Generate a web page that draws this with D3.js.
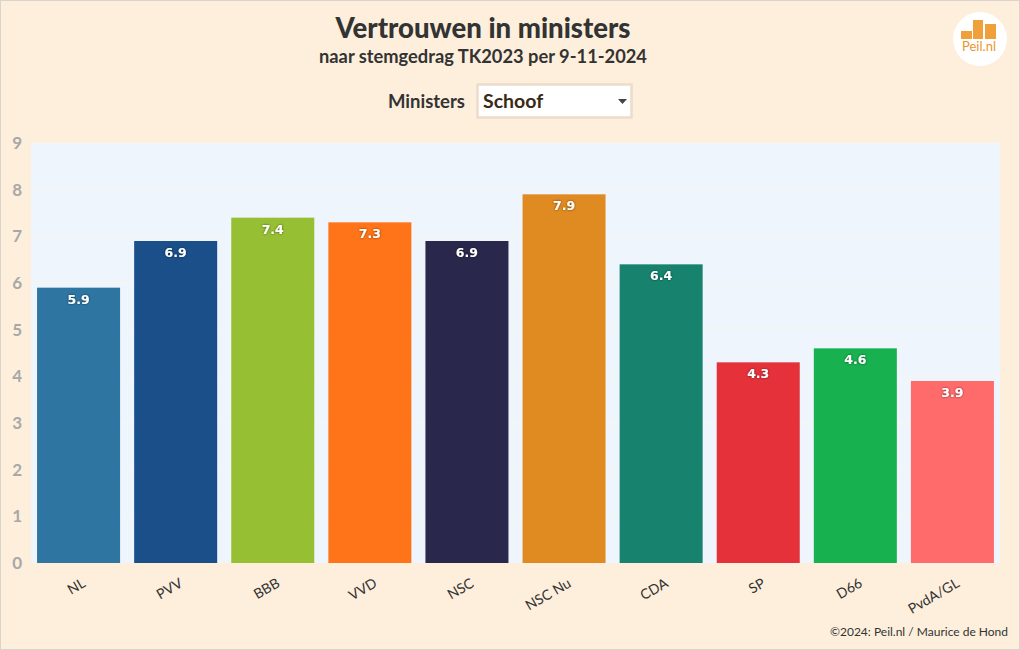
<!DOCTYPE html>
<html><head><meta charset="utf-8">
<script src="https://cdn.jsdelivr.net/npm/d3@7"></script>
<style>
html,body{margin:0;padding:0;background:#fdefdc;}
svg{display:block;}
</style></head>
<body>
<svg id="c" width="1020" height="650"></svg>
<script>
const categories = ["NL","PVV","BBB","VVD","NSC","NSC Nu","CDA","SP","D66","PvdA/GL"];
const values = [5.9,6.9,7.4,7.3,6.9,7.9,6.4,4.3,4.6,3.9];
const colors = ["#2e75a1","#1a4f8a","#97bf33","#ff7418","#29284c","#e08a22","#17836e","#e4313a","#18b14f","#ff6b6b"];
const yTicks = [0,1,2,3,4,5,6,7,8,9];
const title = "Vertrouwen in ministers";
const subtitle = "naar stemgedrag TK2023 per 9-11-2024";
const selectLabel = "Ministers";
const selectValue = "Schoof";
const credit = "©2024: Peil.nl / Maurice de Hond";

const font = "'Source Sans Pro','Lato','Open Sans',sans-serif";
const svg = d3.select("#c");
const W = 1020, H = 650;
const m = {l:31, r:20, t:143, b:87};

svg.append("rect").attr("x",0.5).attr("y",0.5).attr("width",W-1).attr("height",H-1)
  .attr("fill","#fdefdc").attr("stroke","#d9d4cc");

const x = d3.scaleBand().domain(categories).range([m.l, W-m.r]).paddingInner(0.145).paddingOuter(0.0625);
const y = d3.scaleLinear().domain([0,9]).range([H-m.b, m.t]);

svg.append("rect").attr("x",m.l).attr("y",m.t).attr("width",W-m.r-m.l).attr("height",H-m.b-m.t).attr("fill","#eef5fd");

// grid
svg.append("g").selectAll("line").data(yTicks.slice(1)).join("line")
  .attr("x1",m.l).attr("x2",W-m.r).attr("y1",d=>y(d)).attr("y2",d=>y(d))
  .attr("stroke","#f9f5ee").attr("stroke-width",1);

// y axis
const ya = svg.append("g").attr("transform",`translate(${m.l},0)`)
  .call(d3.axisLeft(y).tickValues(yTicks).tickSize(0).tickPadding(9).tickFormat(d3.format("d")));
ya.select(".domain").remove();
ya.selectAll("text").attr("font-family",font).attr("font-size",17).attr("font-weight","bold").attr("fill","#a8a8a8");

// bars
svg.append("g").selectAll("rect").data(categories).join("rect")
  .attr("x",d=>x(d)).attr("width",x.bandwidth())
  .attr("y",(d,i)=>y(values[i])).attr("height",(d,i)=>y(0)-y(values[i]))
  .attr("fill",(d,i)=>colors[i]);

// value labels
const defs = svg.append("defs");
const f = defs.append("filter").attr("id","sh").attr("x","-20%").attr("y","-20%").attr("width","140%").attr("height","140%");
f.append("feDropShadow").attr("dx",0).attr("dy",0).attr("stdDeviation",1).attr("flood-color","#000").attr("flood-opacity",0.6);
svg.append("g").selectAll("text").data(categories).join("text")
  .attr("x",d=>x(d)+x.bandwidth()/2).attr("y",(d,i)=>y(values[i])+16)
  .attr("text-anchor","middle").attr("font-family","'DejaVu Sans',sans-serif").attr("font-weight","bold")
  .attr("font-size",12.5).attr("fill","#fff").attr("filter","url(#sh)")
  .text((d,i)=>d3.format(".1f")(values[i]));

// x axis
const xa = svg.append("g").attr("transform",`translate(0,${H-m.b})`)
  .call(d3.axisBottom(x).tickSize(0).tickPadding(0));
xa.select(".domain").remove();
xa.selectAll(".tick text").attr("font-family",font).attr("font-size",14).attr("fill","#333")
  .attr("text-anchor","end").attr("y",0).attr("dy",0)
  .attr("transform","translate(8,23) rotate(-30)");

// titles
svg.append("text").attr("x",483).attr("y",38).attr("text-anchor","middle")
  .attr("font-family",font).attr("font-weight","900").attr("font-size",27.5).attr("fill","#333").text(title);
svg.append("text").attr("x",483).attr("y",63).attr("text-anchor","middle")
  .attr("font-family",font).attr("font-weight","bold").attr("font-size",18.3).attr("fill","#333").text(subtitle);

// select
svg.append("text").attr("x",465).attr("y",108).attr("text-anchor","end")
  .attr("font-family",font).attr("font-weight","bold").attr("font-size",18.5).attr("fill","#333").text(selectLabel);
svg.append("rect").attr("x",477.5).attr("y",84.5).attr("width",154).attr("height",33)
  .attr("fill","#fff").attr("stroke","#ebdccb").attr("stroke-width",2.5);
svg.append("text").attr("x",483).attr("y",108)
  .attr("font-family",font).attr("font-weight","bold").attr("font-size",19.5).attr("fill","#3a2a14").text(selectValue);
svg.append("path").attr("d","M618,99 L627,99 L622.5,104 Z").attr("fill","#444");

// logo
const lg = svg.append("g").attr("transform","translate(980,39)");
lg.append("circle").attr("r",27).attr("fill","#fff");
const logoBars = [[-19,-8,11,8],[-7,-19,10,19],[5,-15,11,15]];
lg.selectAll("rect").data(logoBars).join("rect")
  .attr("x",d=>d[0]).attr("y",d=>d[1]).attr("width",d=>d[2]).attr("height",d=>d[3]).attr("fill","#f0a03a");
lg.append("text").attr("x",-1).attr("y",12).attr("text-anchor","middle")
  .attr("font-family",font).attr("font-size",13).attr("fill","#e8962e").text("Peil.nl");

// credit
svg.append("text").attr("x",1008).attr("y",636).attr("text-anchor","end")
  .attr("font-family",font).attr("font-size",12).attr("fill","#333").text(credit);
</script>
</body></html>
